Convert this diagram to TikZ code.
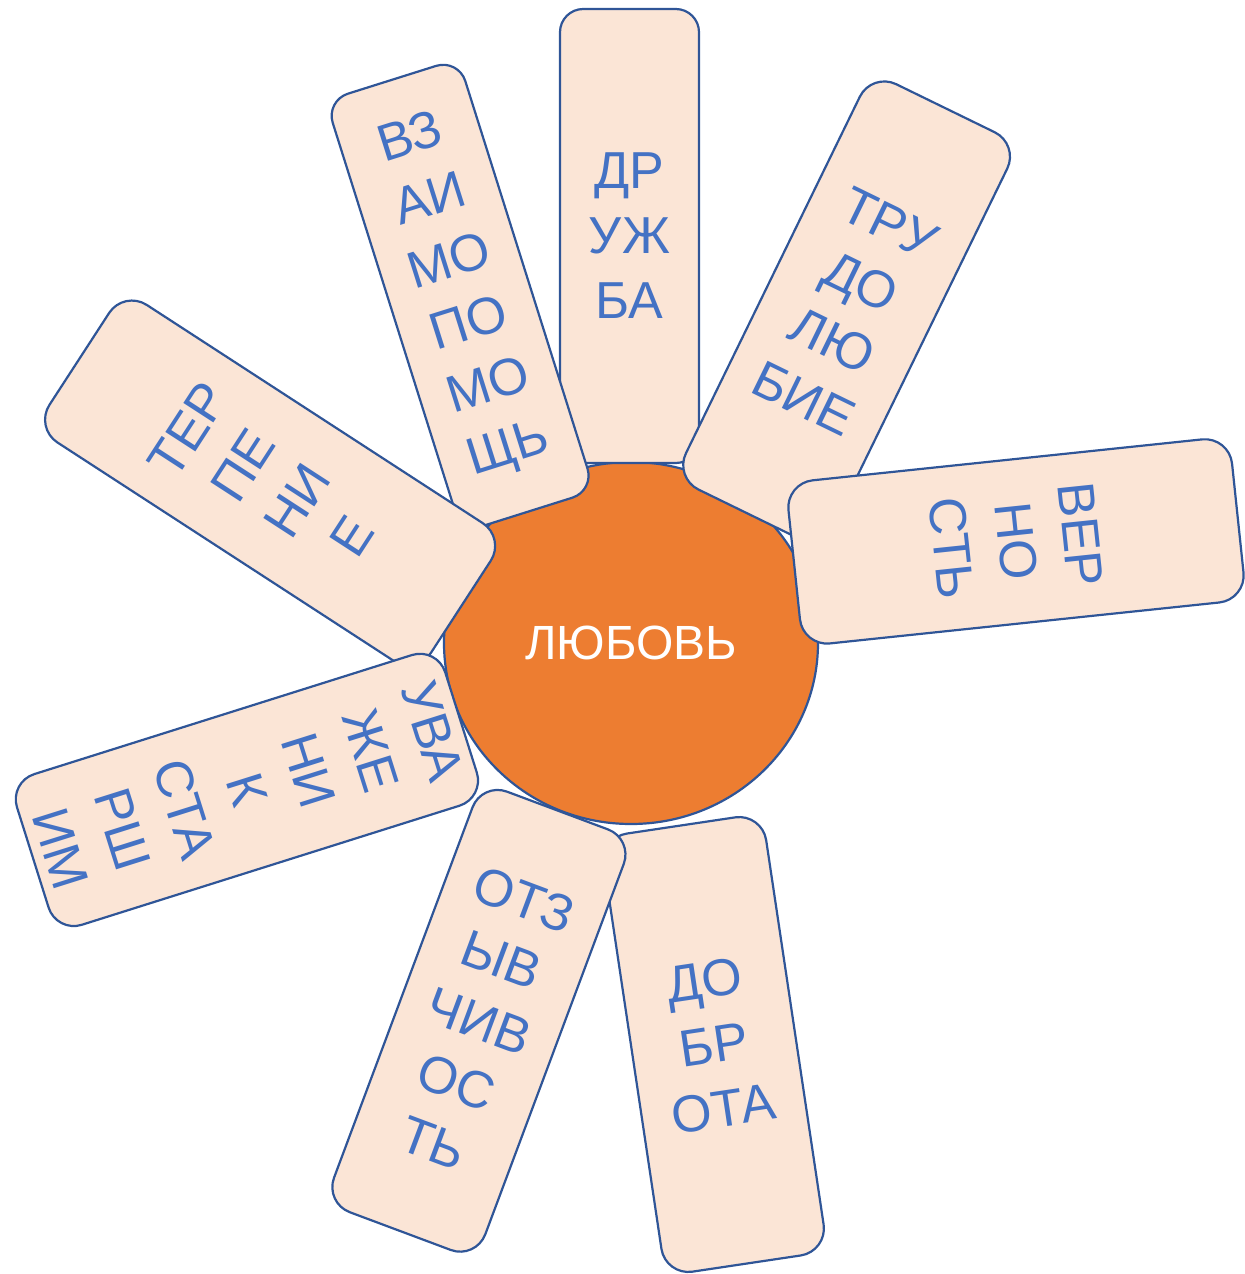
\documentclass[tikz,border=0pt]{standalone}
\usepackage{fontspec}
\setmainfont{Liberation Sans}
\usetikzlibrary{shapes.geometric}
\definecolor{petalfill}{HTML}{FBE5D6}
\definecolor{petalline}{HTML}{2F5597}
\definecolor{petaltext}{HTML}{4472C4}
\definecolor{centerfill}{HTML}{ED7D31}
\tikzset{
  petal/.style={rectangle, draw=petalline, fill=petalfill, line width=1.1pt,
    inner sep=0pt, text=petaltext, align=center,
    font=\fontsize{26pt}{32.5pt}\selectfont},
  narrowpetal/.style={petal, minimum width=69.5pt, rounded corners=11.6pt},
  widepetal/.style={petal, minimum width=82pt, rounded corners=13.6pt},
  hub/.style={ellipse, draw=petalline, fill=centerfill, line width=1.1pt,
    inner sep=0pt, text=white, font=\fontsize{24pt}{28pt}\selectfont}
}
\begin{document}
\begin{tikzpicture}[x=0.5pt,y=-0.5pt]
\useasboundingbox (0,0) rectangle (1244,1274);
\node[hub, minimum width=187pt, minimum height=181pt] (love) at (631,643) {ЛЮБОВЬ};
\node[narrowpetal, minimum height=227pt, rotate=0] (friend) at (629.5,236) {ДР\\УЖ\\БА};
\node[widepetal, minimum height=225.5pt, rotate=-26] (work) at (846.6,310.9) {ТРУ\\ДО\\ЛЮ\\БИЕ};
\node[widepetal, minimum height=223pt, rotate=-84] (faith) at (1016,541.4) {ВЕР\\НО\\СТЬ};
\node[widepetal, minimum height=221.5pt, rotate=8.5] (kind) at (713.8,1044.5) {ДО\\БР\\ОТА};
\node[narrowpetal, minimum height=226.4pt, rotate=17.5] (help) at (460.1,295.7) {ВЗ\\АИ\\МО\\ПО\\МО\\ЩЬ};
\node[widepetal, minimum height=227.5pt, rotate=57] (patience) at (270.1,482.8) {ТЕР\\ПЕ\\НИ\\Е};
\node[petal, minimum width=79pt, rounded corners=13.2pt, minimum height=224.5pt, rotate=-72.5] (respect) at (246.9,789.9) {УВА\\ЖЕ\\НИ\\К\\СТА\\РШ\\ИМ};
\node[petal, minimum width=80.75pt, rounded corners=13.4pt, minimum height=224.5pt, rotate=-20.5] (response) at (478.9,1020.8) {ОТЗ\\ЫВ\\ЧИВ\\ОС\\ТЬ};
\end{tikzpicture}
\end{document}
